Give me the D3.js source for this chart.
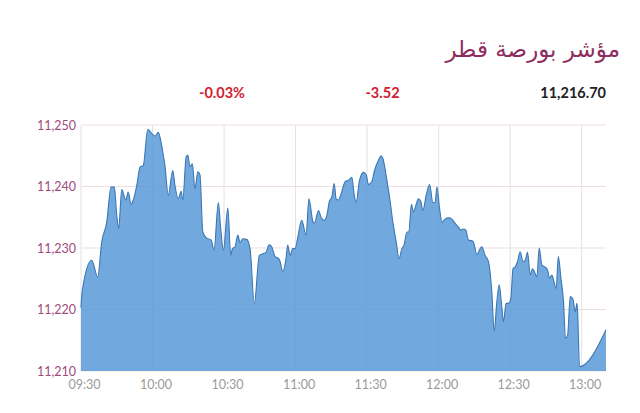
<!DOCTYPE html>
<html>
<head>
<meta charset="utf-8">
<script src="https://cdn.jsdelivr.net/npm/d3@7"></script>
<style>
  html, body { margin: 0; padding: 0; background: #fff; }
  svg { display: block; }
</style>
</head>
<body>
<svg id="chart" width="640" height="413"></svg>
<script>
// ---- data ----
const title = "مؤشر بورصة قطر";
const changePct = "-0.03%";
const changeAbs = "-3.52";
const lastValue = "11,216.70";

// minutes after 09:30
const minutesFromOpen = [
  0, 0.5, 4.5, 7.0, 8.7, 10.8, 12.6, 14.0, 15.0, 15.8, 17.1, 18.8, 19.8, 21.0, 21.9, 23.4, 24.8, 26.1, 28.0, 29.7,
  31.1, 32.4, 34.1, 35.2, 36.6, 38.5, 39.4, 40.8, 42.0, 42.7, 44.1, 44.8, 45.7, 46.7, 47.8, 49.0, 49.9, 51.1, 52.7, 54.6,
  55.8, 57.6, 58.6, 59.7, 61.6, 62.8, 63.5, 64.6, 65.8, 66.7, 67.9, 69.5, 70.9, 72.7, 74.8, 76.5, 77.6, 78.9, 80.0, 81.4,
  82.8, 83.5, 84.6, 86.0, 86.7, 87.7, 88.8, 89.8, 90.8, 92.6, 94.4, 95.6, 97.2, 97.9, 99.6, 100.7, 102.0, 103.1, 104.2, 105.2,
  106.2, 107.0, 108.0, 109.1, 110.8, 112.2, 113.6, 114.6, 115.4, 116.8, 118.5, 119.6, 120.6, 122.0, 123.1, 124.8, 125.9, 126.6, 128.3, 129.7,
  130.8, 132.2, 133.4, 134.6, 135.5, 136.7, 137.5, 138.6, 139.4, 140.6, 141.5, 142.5, 143.4, 144.8, 146.2, 147.6, 148.5, 149.3, 150.4, 151.4,
  152.7, 154.1, 155.6, 156.9, 158.3, 159.3, 160.4, 161.4, 162.5, 164.4, 166.1, 167.0, 168.1, 169.5, 170.9, 172.3, 173.3, 174.4, 175.4, 176.5,
  177.2, 178.3, 179.3, 180.3, 181.2, 182.1, 183.1, 184.2, 185.4, 186.3, 187.3, 188.4, 189.4, 190.1, 191.2, 192.2, 193.3, 194.7, 195.7, 196.5,
  197.5, 198.2, 199.3, 200.2, 201.3, 202.4, 203.2, 204.1, 205.2, 206.3, 207.3, 208.0, 208.3, 209.1, 220.2
];
const indexValues = [
  11220.3, 11223.0, 11228.0, 11225.3, 11231.0, 11234.2, 11239.9, 11239.9, 11235.3, 11233.2, 11239.5, 11237.8, 11239.1, 11237.1, 11237.8, 11240.2, 11243.2, 11243.4, 11249.3, 11248.6,
  11248.2, 11248.8, 11246.1, 11243.4, 11238.6, 11242.6, 11240.2, 11238.0, 11239.2, 11237.8, 11244.8, 11245.1, 11243.2, 11243.7, 11239.6, 11242.4, 11241.9, 11232.6, 11231.6, 11231.3,
  11229.6, 11237.4, 11233.2, 11229.6, 11236.5, 11228.8, 11229.9, 11230.2, 11232.1, 11230.9, 11231.5, 11231.4, 11229.9, 11221.0, 11228.8, 11229.1, 11229.3, 11230.5, 11230.2, 11228.6,
  11228.3, 11227.8, 11226.2, 11228.3, 11230.5, 11228.8, 11229.9, 11229.9, 11231.5, 11234.5, 11232.1, 11238.0, 11234.4, 11234.0, 11236.1, 11235.0, 11234.5, 11235.3, 11237.6, 11238.3,
  11240.5, 11238.0, 11237.8, 11238.8, 11240.8, 11241.0, 11241.5, 11238.6, 11237.4, 11241.0, 11242.3, 11241.9, 11240.3, 11240.8, 11242.6, 11244.3, 11245.0, 11244.6, 11241.0, 11237.5,
  11234.2, 11231.0, 11228.3, 11229.9, 11230.5, 11232.6, 11232.6, 11237.1, 11235.9, 11237.1, 11238.0, 11237.6, 11236.1, 11238.6, 11240.3, 11237.4, 11237.4, 11239.9, 11236.4, 11234.2,
  11234.7, 11234.9, 11234.7, 11234.0, 11233.4, 11232.9, 11233.1, 11232.9, 11231.3, 11231.1, 11228.9, 11229.6, 11230.2, 11228.8, 11227.8, 11222.9, 11216.4, 11221.2, 11224.0, 11220.4,
  11218.0, 11221.0, 11221.0, 11221.8, 11226.7, 11226.9, 11227.8, 11229.4, 11227.8, 11228.0, 11229.3, 11225.6, 11226.6, 11226.2, 11225.3, 11230.0, 11227.2, 11226.9, 11226.4, 11225.1,
  11225.6, 11224.8, 11223.4, 11228.6, 11225.1, 11221.2, 11215.3, 11215.8, 11222.1, 11221.7, 11219.6, 11221.0, 11219.6, 11210.7, 11216.7
];
const yTicks = [11210, 11220, 11230, 11240, 11250];
const xTickLabels = ["09:30", "10:00", "10:30", "11:00", "11:30", "12:00", "12:30", "13:00"];

// ---- chart ----
const svg = d3.select("#chart");
const open = new Date(2020, 0, 1, 9, 30);
const toDate = m => new Date(open.getTime() + m * 60000);
const parseHM = d3.timeParse("%H:%M");
const tickDates = xTickLabels.map(s => { const t = parseHM(s); return new Date(2020, 0, 1, t.getHours(), t.getMinutes()); });

const data = minutesFromOpen.map((m, i) => ({ t: toDate(m), v: indexValues[i] }));

const x = d3.scaleTime().domain([open, toDate(220.2)]).range([81, 606]);
const y = d3.scaleLinear().domain([11210, 11250]).range([371, 125]);

// horizontal grid
svg.append("g").selectAll("line").data(yTicks).join("line")
  .attr("x1", 82).attr("x2", 606)
  .attr("y1", d => y(d)).attr("y2", d => y(d))
  .attr("stroke", "#f0dde2").attr("stroke-width", 1);

// vertical grid
svg.append("g").selectAll("line").data(tickDates).join("line")
  .attr("x1", d => x(d)).attr("x2", d => x(d))
  .attr("y1", 125).attr("y2", 371)
  .attr("stroke", "#e2e2e8").attr("stroke-width", 1);

const area = d3.area().x(d => x(d.t)).y0(y(11210)).y1(d => y(d.v)).curve(d3.curveMonotoneX);
const line = d3.line().x(d => x(d.t)).y(d => y(d.v)).curve(d3.curveMonotoneX);

svg.append("path").datum(data).attr("d", area)
  .attr("fill", "rgb(88,154,216)").attr("fill-opacity", 0.85);
svg.append("path").datum(data).attr("d", line)
  .attr("fill", "none").attr("stroke", "#3c77b3").attr("stroke-width", 1.1);

// y axis labels
const yAxis = d3.axisLeft(y).tickValues(yTicks).tickSize(0).tickPadding(6).tickFormat(d3.format(","));
const gy = svg.append("g").attr("transform", "translate(82,0)").call(yAxis);
gy.select(".domain").remove();
gy.selectAll("text").attr("fill", "#a04a7e").style("font-family", "Lato, sans-serif").style("font-size", "12.5px");

// x axis labels
const xAxis = d3.axisBottom(x).tickValues(tickDates).tickSize(0).tickPadding(9).tickFormat(d3.timeFormat("%H:%M"));
const gx = svg.append("g").attr("transform", "translate(3,371)").call(xAxis);
gx.select(".domain").remove();
gx.selectAll("text").attr("fill", "#9a9a9a").style("font-family", "Lato, sans-serif").style("font-size", "12.5px");

// title
svg.append("text").attr("x", 620).attr("y", 57).attr("text-anchor", "end")
  .attr("fill", "#8e2d60").style("font-family", "'DejaVu Sans', sans-serif").style("font-size", "23px")
  .text(title);

// header numbers
const hdr = [
  { t: changePct, x: 222, a: "middle", c: "#d1202f" },
  { t: changeAbs, x: 382.5, a: "middle", c: "#d1202f" },
  { t: lastValue, x: 606, a: "end", c: "#222" }
];
svg.append("g").selectAll("text").data(hdr).join("text")
  .attr("x", d => d.x).attr("y", 98).attr("text-anchor", d => d.a)
  .attr("fill", d => d.c).style("font-family", "Lato, sans-serif").style("font-weight", "bold").style("font-size", "14.5px")
  .text(d => d.t);
</script>
</body>
</html>
